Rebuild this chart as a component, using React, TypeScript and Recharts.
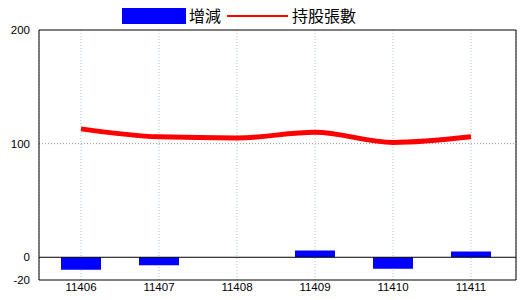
import React from 'react';
import { ComposedChart, Bar, Line, XAxis, YAxis, CartesianGrid, ReferenceLine } from 'recharts';

const months = ['11406', '11407', '11408', '11409', '11410', '11411'];
const change = [-11, -7, 0, 6, -10, 5];
const shares = [113, 106, 105, 110, 101, 106];
const yTicks = [-20, 0, 100, 200];

const data = months.map((m, i) => ({ month: m, change: change[i], shares: shares[i] }));

const tickStyle = { fontSize: 11.5, fill: '#000', fontFamily: 'Liberation Sans, Arial, sans-serif' };

const LegendBox = () => (
  <div style={{ position: 'absolute', left: 0, top: 0, width: 520, height: 28, fontFamily: '"Noto Sans CJK TC", sans-serif', fontSize: 16, color: '#000' }}>
    <div style={{ position: 'absolute', left: 122, top: 8, width: 64, height: 16, background: '#0000ff' }} />
    <div style={{ position: 'absolute', left: 189, top: 5, lineHeight: '20px' }}>增減</div>
    <div style={{ position: 'absolute', left: 227, top: 15, width: 61, height: 2, background: '#ff0000' }} />
    <div style={{ position: 'absolute', left: 292, top: 5, lineHeight: '20px' }}>持股張數</div>
  </div>
);

export default function App() {
  return (
    <div style={{ position: 'absolute', left: 0, top: 0, width: 520, height: 300, background: '#fff' }}>
      <ComposedChart width={520} height={300} data={data} margin={{ top: 30, right: 3, bottom: 0, left: 0 }}>
        <CartesianGrid horizontal={false} stroke="#a6c2d6" strokeDasharray="1 2" />
        <ReferenceLine y={100} stroke="#999" strokeDasharray="1 2" />
        <XAxis dataKey="month" padding={{ left: 3, right: 6 }} tickLine={false} axisLine={{ stroke: '#000', strokeWidth: 1 }} tick={tickStyle} height={20} tickMargin={-3} interval={0} />
        <YAxis domain={[-20, 200]} ticks={yTicks} tickLine={false} axisLine={{ stroke: '#000' }} tick={tickStyle} width={39} tickMargin={3} interval={0} />
        <YAxis yAxisId="right" orientation="right" domain={[-20, 200]} ticks={yTicks} tick={false} tickLine={false} axisLine={{ stroke: '#000' }} width={1} />
        <ReferenceLine y={200} stroke="#000" strokeWidth={1} />
        <ReferenceLine y={0} stroke="#000" strokeWidth={1} />
        <Bar dataKey="change" fill="#0000ff" barSize={40} isAnimationActive={false} />
        <Line dataKey="shares" type="monotone" stroke="#ff0000" strokeWidth={5} dot={false} isAnimationActive={false} />
      </ComposedChart>
      <LegendBox />
    </div>
  );
}
